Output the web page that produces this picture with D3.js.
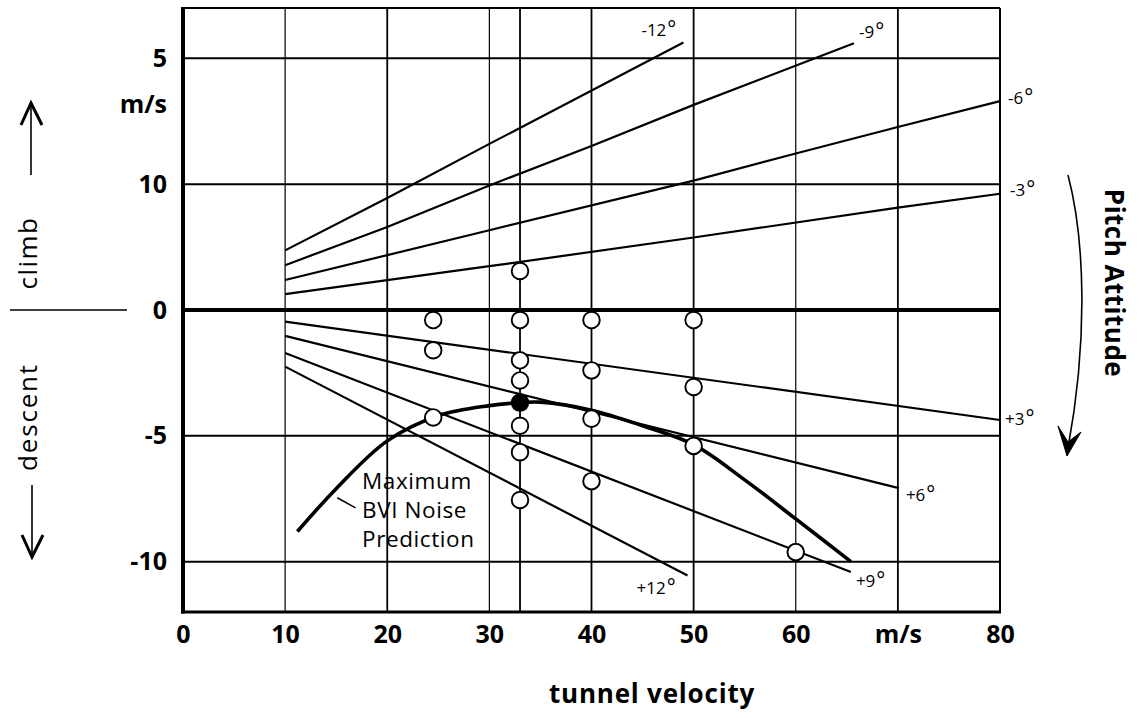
<!DOCTYPE html>
<html>
<head>
<meta charset="utf-8">
<script src="https://cdn.jsdelivr.net/npm/d3@7"></script>
<style>
  html, body { margin: 0; padding: 0; background: #fff; }
  svg { display: block; font-family: "Open Sans", "Noto Sans", sans-serif; }
</style>
</head>
<body>
<svg id="chart" width="1139" height="718"></svg>
<script>
// ---- data ----------------------------------------------------------
// axis ticks (velocity, m/s) and descent-rate grid (m/s)
const xTicks = [0, 10, 20, 30, 40, 50, 60, 70, 80];
const xTickLabels = ["0", "10", "20", "30", "40", "50", "60", "m/s", "80"];
const yTicks = [10, 5, 0, -5, -10];
const yTickLabels = ["5", "10", "0", "-5", "-10"];
const xGrid = [10, 20, 30, 33, 40, 50, 60, 70];

// constant pitch-attitude lines: [velocity, climb rate]
const pitchNames = ["-12°", "-9°", "-6°", "-3°", "+3°", "+6°", "+9°", "+12°"];
const pitchM12 = [[10, 2.37], [20, 4.45], [30, 6.6], [49, 10.63]];
const pitchM9  = [[10, 1.78], [20, 3.3], [30, 4.95], [40, 6.52], [50, 8.15], [65.7, 10.6]];
const pitchM6  = [[10, 1.19], [30, 3.17], [50, 5.14], [60, 6.22], [70, 7.27], [80, 8.3]];
const pitchM3  = [[10, 0.63], [30, 1.74], [50, 2.88], [70, 4.07], [80, 4.62]];
const pitchP3  = [[10, -0.46], [80, -4.37]];
const pitchP6  = [[10, -1.03], [70.1, -7.08]];
const pitchP9  = [[10, -1.71], [65.4, -10.41]];
const pitchP12 = [[10, -2.25], [49.4, -10.55]];

// measured test points (open circles)
const testVelocity = [33, 24.5, 24.5, 24.5, 33, 33, 33, 33, 33, 33, 40, 40, 40, 40, 50, 50, 50, 60];
const testClimb    = [1.55, -0.4, -1.6, -4.27, -0.4, -2.0, -2.8, -4.6, -5.65, -7.55, -0.4, -2.4, -4.32, -6.8, -0.4, -3.06, -5.4, -9.62];

// highlighted test point (filled)
const peakVelocity = [33];
const peakClimb = [-3.68];

// maximum BVI noise prediction curve
const bviVelocity = [11.2, 15, 20, 25, 30, 33, 35, 40, 45, 50, 55, 60, 65.4];
const bviClimb    = [-8.8, -7.1, -5.2, -4.2, -3.8, -3.68, -3.66, -3.98, -4.6, -5.35, -6.75, -8.3, -10.0];

// ---- layout ---------------------------------------------------------
const svg = d3.select("#chart");
const plotL = 183, plotR = 1000, plotT = 8, plotB = 612;
const x = d3.scaleLinear().domain([0, 80]).range([plotL, plotR]);
const y = d3.scaleLinear().domain([-12, 12]).range([plotB, plotT]);

svg.append("rect").attr("width", 1139).attr("height", 718).attr("fill", "#fff");

// grid
const grid = svg.append("g").attr("stroke", "#000").attr("fill", "none");
grid.selectAll("line.v").data(xGrid).join("line")
  .attr("x1", d => x(d)).attr("x2", d => x(d))
  .attr("y1", plotT).attr("y2", plotB)
  .attr("stroke-width", d => (d === 10 || d === 30 || d === 60) ? 1.2 : 1.8);
grid.selectAll("line.h").data(yTicks.filter(d => d !== 0)).join("line")
  .attr("x1", plotL).attr("x2", plotR)
  .attr("y1", d => y(d)).attr("y2", d => y(d))
  .attr("stroke-width", 2);

// pitch lines
const pitchLines = [pitchM12, pitchM9, pitchM6, pitchM3, pitchP3, pitchP6, pitchP9, pitchP12];
const lineGen = d3.line().x(d => x(d[0])).y(d => y(d[1]));
svg.append("g").selectAll("path").data(pitchLines).join("path")
  .attr("d", lineGen)
  .attr("fill", "none").attr("stroke", "#000").attr("stroke-width", 2.2);

// pitch labels, placed beside each line's end
const labelOffsets = [[-42, -6], [5, -5], [8, 3], [10, 2], [5, 5], [7, 13], [5, 15], [-51, 18]];
const lbl = svg.append("g").attr("font-size", 17).attr("fill", "#000");
pitchLines.forEach((pts, i) => {
  const end = pts[pts.length - 1];
  const t = lbl.append("text")
    .attr("x", x(end[0]) + labelOffsets[i][0])
    .attr("y", y(end[1]) + labelOffsets[i][1]);
  const name = pitchNames[i];
  t.append("tspan").text(name.replace("°", ""));
  t.append("tspan").attr("font-size", 21).attr("dx", 1).text("°");
});

// zero line (heavy)
svg.append("line")
  .attr("x1", plotL).attr("x2", plotR).attr("y1", y(0)).attr("y2", y(0))
  .attr("stroke", "#000").attr("stroke-width", 4);

// BVI prediction curve
const bviPts = bviVelocity.map((v, i) => [v, bviClimb[i]]);
svg.append("path")
  .attr("d", d3.line().x(d => x(d[0])).y(d => y(d[1])).curve(d3.curveCatmullRom)(bviPts))
  .attr("fill", "none").attr("stroke", "#000").attr("stroke-width", 3.6);

// test points
svg.append("g").selectAll("circle").data(testVelocity.map((v, i) => [v, testClimb[i]])).join("circle")
  .attr("cx", d => x(d[0])).attr("cy", d => y(d[1])).attr("r", 8.3)
  .attr("fill", "#fff").attr("stroke", "#000").attr("stroke-width", 1.9);
svg.append("g").selectAll("circle").data(peakVelocity.map((v, i) => [v, peakClimb[i]])).join("circle")
  .attr("cx", d => x(d[0])).attr("cy", d => y(d[1])).attr("r", 8.3)
  .attr("fill", "#000").attr("stroke", "#000").attr("stroke-width", 1.9);

// curve annotation
svg.append("line")
  .attr("x1", x(15.1)).attr("y1", y(-7.46)).attr("x2", x(16.9)).attr("y2", y(-7.86))
  .attr("stroke", "#000").attr("stroke-width", 1.5);
const note = svg.append("text").attr("font-size", 22.5).attr("letter-spacing", 0.6).attr("fill", "#000");
["Maximum", "BVI Noise", "Prediction"].forEach((s, i) => {
  note.append("tspan").attr("x", 362).attr("y", 489 + i * 29).text(s);
});

// frame
const frame = svg.append("g").attr("stroke", "#000").attr("fill", "none");
frame.append("line").attr("x1", plotL).attr("x2", plotR).attr("y1", plotT).attr("y2", plotT).attr("stroke-width", 2);
frame.append("line").attr("x1", plotR).attr("x2", plotR).attr("y1", plotT).attr("y2", plotB).attr("stroke-width", 2);
frame.append("line").attr("x1", plotL - 2).attr("x2", plotR + 1).attr("y1", plotB).attr("y2", plotB).attr("stroke-width", 3.2);
frame.append("line").attr("x1", plotL).attr("x2", plotL).attr("y1", plotT - 1).attr("y2", plotB + 1.5).attr("stroke-width", 4);

// axes labels
const yAxis = svg.append("g").attr("transform", `translate(${plotL},0)`)
  .call(d3.axisLeft(y).tickValues(yTicks).tickSize(0).tickPadding(16)
    .tickFormat((d, i) => yTickLabels[i]));
const xAxis = svg.append("g").attr("transform", `translate(0,${plotB})`)
  .call(d3.axisBottom(x).tickValues(xTicks).tickSize(0).tickPadding(13)
    .tickFormat((d, i) => xTickLabels[i]));
[yAxis, xAxis].forEach(a => {
  a.select(".domain").remove();
  a.selectAll("text").attr("font-size", 25).attr("font-weight", "bold")
    .attr("font-family", "'Open Sans', sans-serif").attr("fill", "#000");
});

svg.append("text").attr("x", 167).attr("y", 113).attr("text-anchor", "end")
  .attr("font-size", 25).attr("font-weight", "bold").text("m/s");

svg.append("text").attr("x", 652).attr("y", 703).attr("text-anchor", "middle")
  .attr("font-size", 26).attr("font-weight", "bold").attr("letter-spacing", 0.8)
  .text("tunnel velocity");

// climb / descent side labels
svg.append("text").attr("transform", "translate(37,253) rotate(-90)")
  .attr("text-anchor", "middle").attr("font-size", 26).attr("letter-spacing", 1.5).text("climb");
svg.append("text").attr("transform", "translate(37,417) rotate(-90)")
  .attr("text-anchor", "middle").attr("font-size", 26).attr("letter-spacing", 1.8).text("descent");

const side = svg.append("g").attr("stroke", "#000").attr("fill", "none");
side.append("line").attr("x1", 10).attr("x2", 127).attr("y1", 310).attr("y2", 310).attr("stroke-width", 1.6);
side.append("line").attr("x1", 31).attr("x2", 31).attr("y1", 175).attr("y2", 104).attr("stroke-width", 1.6);
side.append("path").attr("d", "M21,125 L31,103 L42,125").attr("stroke-width", 3);
side.append("line").attr("x1", 32).attr("x2", 32).attr("y1", 485).attr("y2", 555).attr("stroke-width", 1.6);
side.append("path").attr("d", "M22,535 L32,557 L43,535").attr("stroke-width", 3);

// pitch attitude label and arrow
svg.append("text").attr("transform", "translate(1105,283) rotate(90)")
  .attr("text-anchor", "middle").attr("font-size", 26).attr("font-weight", "bold")
  .attr("letter-spacing", 0.5).text("Pitch Attitude");
svg.append("path").attr("d", "M1068,175 C1085,240 1088,340 1068,448")
  .attr("fill", "none").attr("stroke", "#000").attr("stroke-width", 1.6);
svg.append("path").attr("d", "M1058,426 L1067,456 L1081,432 L1068,442 Z")
  .attr("fill", "#000").attr("stroke", "#000").attr("stroke-width", 1);
</script>
</body>
</html>
